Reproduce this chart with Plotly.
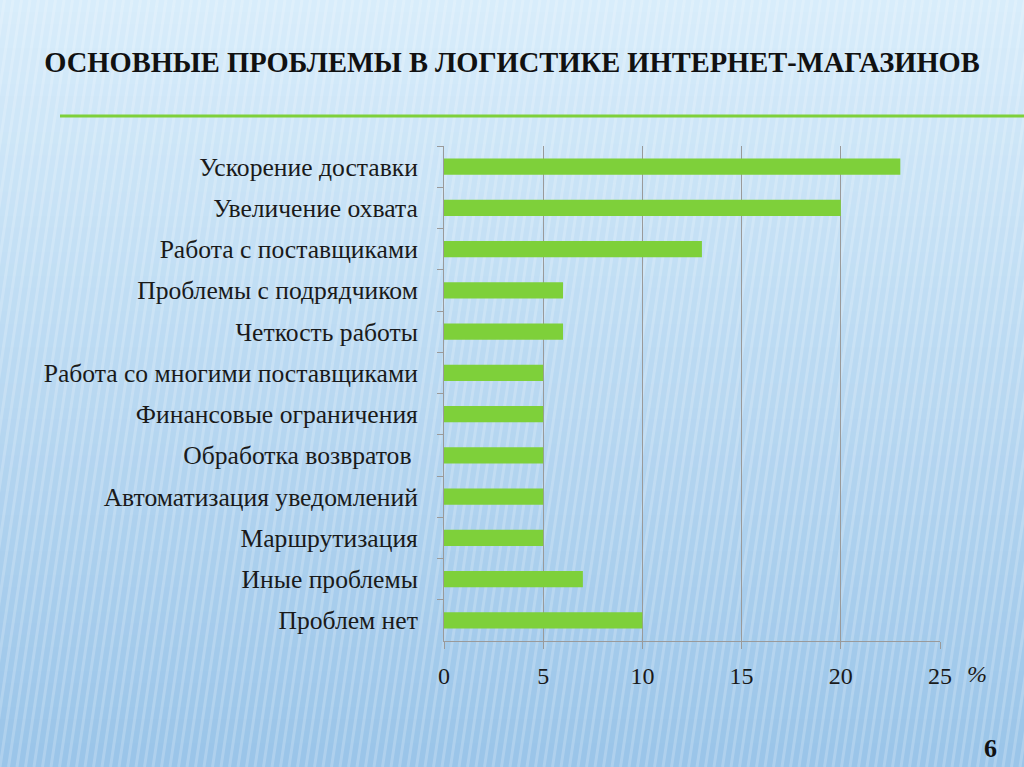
import plotly.graph_objects as go

# data
categories = [
    "Ускорение доставки",
    "Увеличение охвата",
    "Работа с поставщиками",
    "Проблемы с подрядчиком",
    "Четкость работы",
    "Работа со многими поставщиками",
    "Финансовые ограничения",
    "Обработка возвратов ",
    "Автоматизация уведомлений",
    "Маршрутизация",
    "Иные проблемы",
    "Проблем нет",
]
values = [23, 20, 13, 6, 6, 5, 5, 5, 5, 5, 7, 10]
x_ticks = [0, 5, 10, 15, 20, 25]

title_text = "ОСНОВНЫЕ ПРОБЛЕМЫ В ЛОГИСТИКЕ ИНТЕРНЕТ-МАГАЗИНОВ"
serif = "Liberation Serif, serif"

W, H = 1024, 767
ML, MR, MT, MB = 444, 84, 146, 126
pw = W - ML - MR
ph = H - MT - MB


def px(x):
    # page pixel x -> paper x
    return (x - ML) / pw


def py(y):
    # page pixel y -> paper y
    return (H - MB - y) / ph


fig = go.Figure()
fig.add_trace(go.Bar(
    x=values,
    y=categories,
    orientation="h",
    width=0.39,
    marker=dict(color="#7ED03A", line=dict(width=0)),
    hoverinfo="x+y",
))

# background: vertical gradient built from bands
shapes = []
n_bands = 64
top_c = (216, 237, 251)
bot_c = (155, 197, 233)
for i in range(n_bands):
    t = i / (n_bands - 1)
    c = tuple(int(top_c[k] + (bot_c[k] - top_c[k]) * t) for k in range(3))
    shapes.append(dict(
        type="rect", xref="paper", yref="paper", layer="below",
        x0=px(0), x1=px(W),
        y0=py(H * (i + 1) / n_bands + 1), y1=py(H * i / n_bands),
        fillcolor="rgb(%d,%d,%d)" % c, line=dict(width=0),
    ))
# fine slanted stripes
for j in range(-20, 130):
    xs = j * 8.5
    shapes.append(dict(
        type="line", xref="paper", yref="paper", layer="below",
        x0=px(xs), x1=px(xs + 115),
        y0=py(H), y1=py(0),
        line=dict(color="rgba(255,255,255,0.2)", width=3),
    ))
# green line under the title
shapes.append(dict(
    type="line", xref="paper", yref="paper",
    x0=px(60), x1=px(W),
    y0=py(116), y1=py(116),
    line=dict(color="#7ED03A", width=3),
))

fig.update_layout(
    width=W,
    height=H,
    margin=dict(l=ML, r=MR, t=MT, b=MB),
    paper_bgcolor="#D6ECFA",
    plot_bgcolor="rgba(0,0,0,0)",
    showlegend=False,
    shapes=shapes,
    title=dict(
        text="<b>" + title_text + "</b>",
        x=0.5, xanchor="center", y=1 - 62 / H, yanchor="middle",
        font=dict(family=serif, size=28.5, color="#111111"),
    ),
    xaxis=dict(
        range=[0, 25],
        tickvals=x_ticks,
        ticks="outside", ticklen=7, tickcolor="#9A9A9A",
        showgrid=True, gridcolor="#9A9A9A", gridwidth=1,
        showline=True, linecolor="#9A9A9A", linewidth=1,
        zeroline=False,
        tickfont=dict(family=serif, size=24, color="#1A1A1A"),
        ticklabelstandoff=6,
    ),
    yaxis=dict(
        autorange="reversed",
        ticks="outside", ticklen=6, tickcolor="#9A9A9A",
        tickson="boundaries",
        showline=True, linecolor="#9A9A9A", linewidth=1,
        showgrid=False,
        tickfont=dict(family=serif, size=25.6, color="#1A1A1A"),
        ticklabelstandoff=20,
    ),
    annotations=[
        dict(text="<i>%</i>", xref="paper", yref="paper",
             x=px(977), y=py(674),
             xanchor="center", yanchor="middle", showarrow=False,
             font=dict(family=serif, size=24, color="#1A1A1A")),
        dict(text="<b>6</b>", xref="paper", yref="paper",
             x=px(990), y=py(748),
             xanchor="center", yanchor="middle", showarrow=False,
             font=dict(family=serif, size=26, color="#111111")),
    ],
)

fig.write_html("out.html", config={"displayModeBar": False},
               post_script="document.body.style.margin='0';")
